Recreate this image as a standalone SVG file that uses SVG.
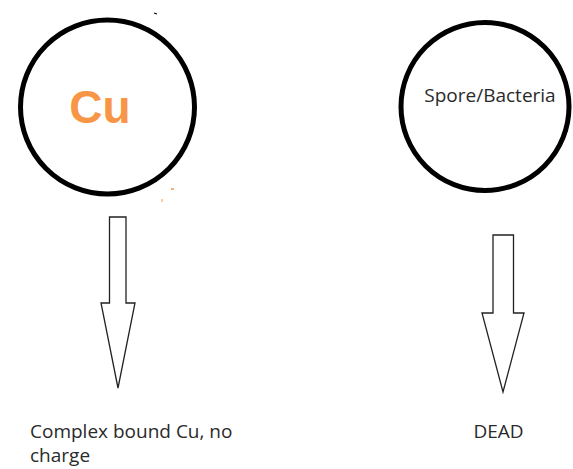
<svg xmlns="http://www.w3.org/2000/svg" width="573" height="469" viewBox="0 0 573 469">
<style>
.ring{fill:none;stroke:#000;stroke-width:5}
.arrow{fill:#fff;stroke:#222;stroke-width:1.3;stroke-linejoin:miter}
.lbl{font-family:"Open Sans","Noto Sans","DejaVu Sans",sans-serif;font-size:19px;fill:#2a2a2a}
</style>
<rect width="573" height="469" fill="#fff"/>
<g id="cu">
<circle class="ring" cx="107.5" cy="107" r="87"/>
<text x="100" y="123" text-anchor="middle" font-family="'Liberation Sans',Arial,sans-serif" font-weight="bold" font-size="46" fill="#F79646">Cu</text>
<line x1="154" y1="13" x2="157" y2="14" stroke="#000" stroke-width="1.2"/>
<line x1="171" y1="189" x2="174" y2="189" stroke="#F79646" stroke-width="1.5"/>
<line x1="162" y1="199" x2="162" y2="202" stroke="#F79646" stroke-width="1"/>
</g>
<g id="spore">
<circle class="ring" cx="485" cy="106.5" r="84"/>
<text class="lbl" x="490" y="102" text-anchor="middle">Spore/Bacteria</text>
</g>
<g id="complex">
<text class="lbl" x="30" y="438">Complex bound Cu, no</text>
<text class="lbl" x="30" y="462">charge</text>
</g>
<g id="dead">
<text class="lbl" x="498.5" y="438" text-anchor="middle">DEAD</text>
</g>
<g id="connectors">
<polygon class="arrow" points="109.5,217 126,217 126,303 135,303 118,388 101,303 109.5,303"/>
<polygon class="arrow" points="493,235 513.5,235 513.5,313 524,313 503,392 482,313 493,313"/>
</g>
</svg>
